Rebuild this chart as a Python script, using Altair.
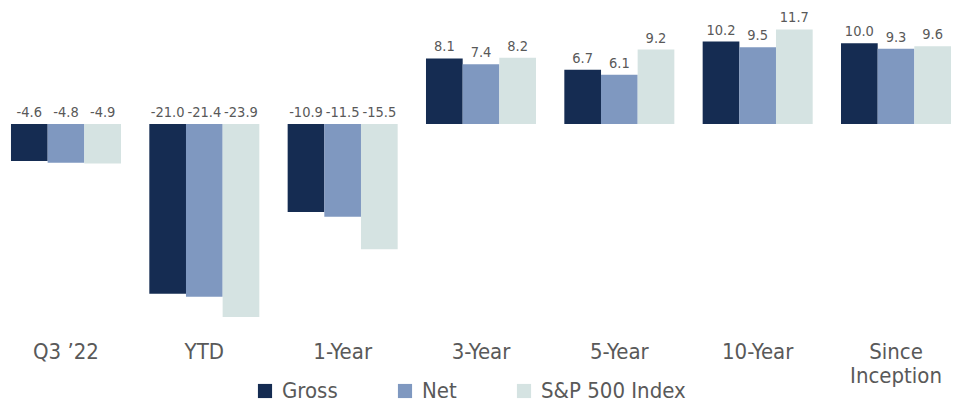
import altair as alt
import pandas as pd

categories = ["Q3 \u201922", "YTD", "1-Year", "3-Year", "5-Year", "10-Year", "Since Inception"]
series = ["Gross", "Net", "S&P 500 Index"]
gross = [-4.6, -21.0, -10.9, 8.1, 6.7, 10.2, 10.0]
net = [-4.8, -21.4, -11.5, 7.4, 6.1, 9.5, 9.3]
sp500 = [-4.9, -23.9, -15.5, 8.2, 9.2, 11.7, 9.6]
colors = ["#152c52", "#7f98c0", "#d5e3e2"]

rows = []
for vals, s in zip([gross, net, sp500], series):
    for c, v in zip(categories, vals):
        rows.append({"category": c, "series": s, "value": v,
                     "labelpos": max(v, 0), "label": f"{v:.1f}"})
df = pd.DataFrame(rows)

FONT = "DejaVu Sans Condensed, sans-serif"
GRAY = "#595959"

x = alt.X("category:N", sort=categories, title=None,
          scale=alt.Scale(paddingInner=0.205, paddingOuter=0),
          axis=alt.Axis(labelAngle=0, domain=False, ticks=False, labelPadding=11,
                        labelFontSize=22, labelFont=FONT, labelColor=GRAY,
                        labelBaseline="top",
                        labelExpr="datum.label == 'Since Inception' ? ['Since', 'Inception'] : datum.label"))
xo = alt.XOffset("series:N", sort=series)
yscale = alt.Scale(domain=[-25.5, 14.1], nice=False, zero=False)

bars = alt.Chart(df).mark_bar(size=36.7).encode(
    x=x, xOffset=xo,
    y=alt.Y("value:Q", scale=yscale, axis=None),
    color=alt.Color("series:N", sort=series,
                    scale=alt.Scale(domain=series, range=colors),
                    legend=alt.Legend(title=None, orient="none", direction="horizontal",
                                      legendX=243, legendY=370,
                                      symbolType="square", symbolSize=200,
                                      symbolStrokeWidth=0, symbolOpacity=1,
                                      labelFontSize=22, labelFont=FONT, labelColor=GRAY,
                                      columnPadding=56, labelOffset=6)),
)

labels = alt.Chart(df).mark_text(baseline="bottom", dy=-4, fontSize=14.5, font=FONT, color=GRAY).encode(
    x=x, xOffset=xo,
    y=alt.Y("labelpos:Q", scale=yscale, axis=None),
    text="label:N",
)

chart = alt.layer(bars, labels).properties(
    width=940, height=320,
    autosize=alt.AutoSizeParams(type="none"),
    padding={"left": 3, "top": 2, "right": 2, "bottom": 73},
).configure_view(stroke=None)

chart.save("out.html", embed_options={"renderer": "svg", "actions": False})
